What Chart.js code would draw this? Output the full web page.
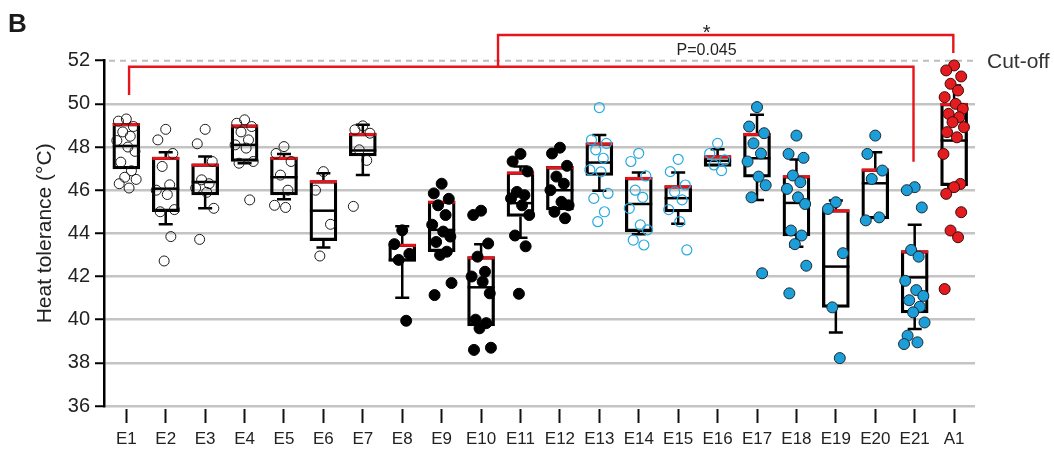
<!DOCTYPE html>
<html>
<head>
<meta charset="utf-8">
<script src="https://cdn.jsdelivr.net/npm/chart.js@4"></script>
<style>
html,body{margin:0;padding:0;background:#fff;}
#wrap{width:1054px;height:453px;position:relative;}
</style>
</head>
<body>
<div id="wrap"><canvas id="c"></canvas></div>
<script>
// ---------- data ----------
const categories = ['E1','E2','E3','E4','E5','E6','E7','E8','E9','E10','E11','E12','E13','E14','E15','E16','E17','E18','E19','E20','E21','A1'];
const yTickValues = [36,38,40,42,44,46,48,50,52];

const boxLow    = [46.99,45.00,45.78,47.33,45.78,43.66,47.59,42.70,43.15,39.71,44.78,45.09,46.68,44.08,44.99,47.10,46.60,43.88,40.57,44.67,40.31,46.21];
const boxMedian = [48.05,46.07,46.38,48.10,46.60,45.05,47.84,42.77,44.16,41.50,45.40,46.00,47.28,45.36,45.63,47.36,47.48,45.41,42.46,46.32,41.96,48.30];
const boxHigh   = [49.10,47.53,47.22,49.03,47.53,46.45,48.64,43.50,45.50,42.92,46.85,47.10,48.20,46.60,46.21,47.60,48.64,46.68,45.10,46.99,43.20,50.03];
const whiskerLow  = [null,44.42,45.16,47.25,45.58,43.35,46.70,41.02,null,null,43.80,null,45.97,43.96,44.44,null,45.55,43.38,39.41,null,39.57,46.14];
const whiskerHigh = [null,47.76,47.56,null,47.68,46.79,49.03,44.33,null,43.50,47.10,null,48.56,46.82,46.82,47.90,49.49,47.42,45.52,47.76,44.40,50.85];

const pointValues = [
  [49.30,49.20,48.95,48.70,48.50,48.30,48.00,47.80,47.30,46.90,46.60,46.50,46.30,46.10],
  [48.82,48.33,47.70,47.10,46.25,46.00,45.80,45.10,45.00,43.85,42.72],
  [48.82,48.15,47.33,46.48,46.30,46.10,45.90,45.16,43.72],
  [49.26,49.10,48.95,48.70,48.33,48.10,47.95,47.33,47.25,45.55],
  [48.02,47.70,47.33,46.70,46.00,45.30,45.20],
  [46.86,46.00,44.42,42.95],
  [48.98,48.80,48.64,47.87,47.38,45.25],
  [44.14,43.50,43.05,42.77,39.95],
  [46.30,45.85,45.60,45.30,44.85,44.40,44.08,43.85,43.60,43.15,43.00,41.70,41.14],
  [45.05,44.85,43.53,42.92,42.22,42.00,41.76,41.22,40.00,39.84,39.60,38.70,38.60],
  [47.68,47.33,46.87,45.92,45.77,45.62,45.30,44.85,43.90,43.40,41.20],
  [47.97,47.70,47.13,46.63,46.30,46.00,45.46,45.30,45.00,44.70],
  [49.83,48.33,48.17,47.87,47.48,46.94,46.85,45.85,45.62,45.00,44.54],
  [47.71,47.33,46.66,46.00,45.67,45.16,44.39,44.16,43.69,43.46],
  [47.43,46.86,46.24,45.92,45.55,45.10,44.54,43.23],
  [48.17,47.70,47.40,47.17,46.91],
  [49.85,48.95,48.64,48.17,47.70,47.33,46.63,46.23,45.67,42.15],
  [48.53,47.68,47.50,46.68,46.37,46.06,45.67,45.36,44.13,43.90,43.50,42.50,41.22],
  [45.44,45.13,43.08,40.57,38.22],
  [48.53,47.68,46.91,46.52,44.74,44.60],
  [46.14,46.00,45.20,43.23,42.92,41.80,41.37,41.10,40.90,40.60,40.34,39.87,39.26,38.95,38.87],
  [51.78,51.55,51.27,50.93,50.62,50.31,50.00,49.77,49.54,49.38,49.15,48.92,48.69,48.45,47.68,46.29,46.14,45.83,44.98,44.13,43.82,41.42]
];

const groupOf = ['openBlack','openBlack','openBlack','openBlack','openBlack','openBlack','openBlack',
                 'filledBlack','filledBlack','filledBlack','filledBlack','filledBlack',
                 'openBlue','openBlue','openBlue','openBlue',
                 'filledBlue','filledBlue','filledBlue','filledBlue','filledBlue',
                 'red'];

// ---------- layout / style ----------
const JITTER = [0, -0.2, 0.18, -0.09, 0.1, -0.24, 0.04, 0.22, -0.14, 0.13, -0.04, 0.25, -0.18, 0.07, -0.27, 0.16];
const styles = {
  openBlack:   {backgroundColor:'rgba(255,255,255,0)', borderColor:'#1a1a1a', borderWidth:1,   pointRadius:5},
  filledBlack: {backgroundColor:'#000000',             borderColor:'#000000', borderWidth:1,   pointRadius:5.5},
  openBlue:    {backgroundColor:'rgba(255,255,255,0)', borderColor:'#27A9E1', borderWidth:1.2, pointRadius:5},
  filledBlue:  {backgroundColor:'#1C9ED8',             borderColor:'#1a2a34', borderWidth:1,   pointRadius:5.5},
  red:         {backgroundColor:'#E41B1F',             borderColor:'#3b0a0a', borderWidth:1,   pointRadius:5.5}
};
const FONT = "'Liberation Sans', Arial, Helvetica, sans-serif";

const scatterSets = Object.keys(styles).map(g => {
  const data = [];
  categories.forEach((c, i) => {
    if (groupOf[i] !== g) return;
    pointValues[i].forEach((v, k) => data.push({x: i + JITTER[k % JITTER.length], y: v}));
  });
  return Object.assign({type:'scatter', data, order:1, clip:false, pointHoverRadius:0}, styles[g]);
});

const boxSet = {
  type:'bar',
  data: categories.map((c, i) => ({x:i, y:[boxLow[i], boxHigh[i]]})),
  backgroundColor:'rgba(0,0,0,0)',
  borderColor:'#000',
  borderWidth:2.6,
  borderSkipped:false,
  barThickness:27,
  order:3
};

const extras = {
  id:'extras',
  beforeDatasetsDraw(chart) {
    const {ctx, chartArea, scales:{x, y}} = chart;
    ctx.save();
    ctx.strokeStyle = '#bdbdbd';
    ctx.lineWidth = 2;
    ctx.setLineDash([6,5]);
    ctx.beginPath();
    const yy = y.getPixelForValue(52);
    ctx.moveTo(chartArea.left + 5, yy);
    ctx.lineTo(978, yy);
    ctx.stroke();
    ctx.restore();
  },
  afterDatasetDraw(chart, args) {
    if (args.index !== 0) return;
    const {ctx, scales:{x, y}} = chart;
    const half = 13.5, cap = 7;
    ctx.save();
    ctx.lineCap = 'butt';
    categories.forEach((c, i) => {
      const cx = x.getPixelForValue(i);
      ctx.strokeStyle = '#000';
      ctx.lineWidth = 2.5;
      if (whiskerHigh[i] !== null) {
        const yt = y.getPixelForValue(boxHigh[i]), yw = y.getPixelForValue(whiskerHigh[i]);
        ctx.beginPath(); ctx.moveTo(cx, yt); ctx.lineTo(cx, yw);
        ctx.moveTo(cx - cap, yw); ctx.lineTo(cx + cap, yw); ctx.stroke();
      }
      if (whiskerLow[i] !== null) {
        const yb = y.getPixelForValue(boxLow[i]), yw = y.getPixelForValue(whiskerLow[i]);
        ctx.beginPath(); ctx.moveTo(cx, yb); ctx.lineTo(cx, yw);
        ctx.moveTo(cx - cap, yw); ctx.lineTo(cx + cap, yw); ctx.stroke();
      }
      const ym = y.getPixelForValue(boxMedian[i]);
      ctx.beginPath(); ctx.moveTo(cx - half, ym); ctx.lineTo(cx + half, ym); ctx.stroke();
      const yq = y.getPixelForValue(boxHigh[i]) + 1.2;
      ctx.strokeStyle = '#E8141B';
      ctx.lineWidth = 3;
      ctx.beginPath(); ctx.moveTo(cx - half, yq); ctx.lineTo(cx + half, yq); ctx.stroke();
    });
    ctx.restore();
  },
  afterDraw(chart) {
    const {ctx, scales:{x, y}} = chart;
    const X = v => x.getPixelForValue(v), Y = v => y.getPixelForValue(v);
    ctx.save();
    ctx.strokeStyle = '#E8141B';
    ctx.lineWidth = 2.4;
    ctx.lineJoin = 'miter';
    ctx.beginPath();
    ctx.moveTo(X(0.07), Y(50.41)); ctx.lineTo(X(0.07), Y(51.72));
    ctx.lineTo(X(19.97), Y(51.72)); ctx.lineTo(X(19.97), Y(47.32));
    ctx.stroke();
    ctx.beginPath();
    ctx.moveTo(X(9.43), Y(51.72)); ctx.lineTo(X(9.43), Y(53.19));
    ctx.lineTo(X(20.98), Y(53.19)); ctx.lineTo(X(20.98), Y(52.36));
    ctx.stroke();
    ctx.fillStyle = '#222';
    ctx.textAlign = 'center';
    ctx.textBaseline = 'alphabetic';
    ctx.font = '20px ' + FONT;
    ctx.fillText('*', X(14.72), Y(52.99));
    ctx.font = '16px ' + FONT;
    ctx.fillText('P=0.045', X(14.72), Y(52.26));
    ctx.textAlign = 'left';
    ctx.font = '21px ' + FONT;
    ctx.fillStyle = '#333';
    ctx.fillText('Cut-off', 987, Y(51.66));
    ctx.fillStyle = '#1a1a1a';
    ctx.font = 'bold 26px ' + FONT;
    ctx.fillText('B', 8, 32);
    ctx.restore();
  }
};

new Chart(document.getElementById('c'), {
  type:'bar',
  data:{ datasets:[boxSet, ...scatterSets] },
  options:{
    responsive:true,
    maintainAspectRatio:false,
    animation:false,
    events:[],
    layout:{ padding:{left:0, right:79, top:60.7, bottom:0} },
    plugins:{ legend:{display:false}, tooltip:{enabled:false} },
    scales:{
      x:{
        type:'linear',
        offset:false,
        min:-0.566, max:21.53,
        afterBuildTicks(scale){ scale.ticks = categories.map((c, i) => ({value:i})); },
        afterFit(scale){ scale.height = 47; },
        ticks:{
          callback:(v) => categories[v],
          font:{family:FONT, size:17}, color:'#222', padding:6, maxRotation:0, autoSkip:false
        },
        grid:{ offset:false, drawOnChartArea:false, drawTicks:true, tickLength:17, tickWidth:2, tickColor:'#111', tickBorderDash:[0,3,14,100] },
        border:{ display:false }
      },
      y:{
        type:'linear',
        min:36, max:52,
        afterBuildTicks(scale){ scale.ticks = yTickValues.map(v => ({value:v})); },
        afterFit(scale){ scale.width = 104; },
        ticks:{ font:{family:FONT, size:20}, color:'#222', padding:5 },
        grid:{
          color:(c) => (c.tick && c.tick.value === 52) ? 'rgba(0,0,0,0)' : '#c4c4c4',
          lineWidth:2.5, tickColor:'#000', tickWidth:2, tickLength:9
        },
        border:{ display:true, color:'#000', width:2.5 },
        title:{ display:true, text:'Heat tolerance (°C)', font:{family:FONT, size:21}, color:'#222', padding:{top:33, bottom:0} }
      }
    }
  },
  plugins:[extras]
});
</script>
</body>
</html>
